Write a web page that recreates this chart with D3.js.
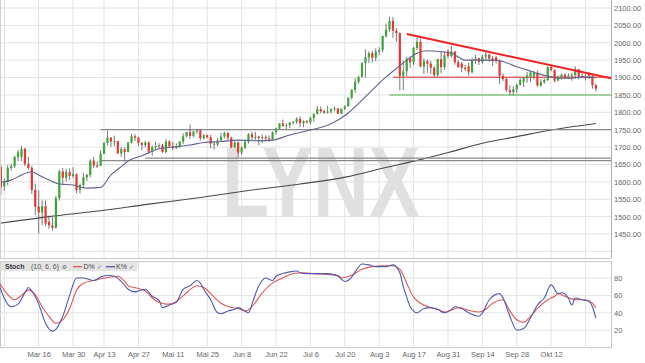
<!DOCTYPE html>
<html>
<head>
<meta charset="utf-8">
<script src="https://cdn.jsdelivr.net/npm/d3@7"></script>
<style>
    body { margin: 0; background: #fff; }
    svg { display: block; font-family: "Liberation Sans", Arial, sans-serif; }
</style>
</head>
<body>
<div id="chart"></div>
<script>
// trading days: Feb 27 .. Oct 29 2020, weekends and Good Friday left out
const holidays = ["2020-04-10"];

// daily candles [open, high, low, close], one row per trading day
const ohlc = [
    // Feb 27 - 28
    [1650,1660,1636,1643],[1643,1648,1563,1585],
    // Mar 2 - 6
    [1587,1610,1575,1600],[1600,1648,1590,1640],[1640,1652,1632,1645],[1645,1675,1640,1672],[1672,1692,1660,1685],
    // Mar 9 - 13
    [1672,1703,1660,1695],[1695,1698,1645,1652],[1652,1672,1635,1640],[1640,1646,1565,1577],[1577,1595,1504,1529],
    // Mar 16 - 20
    [1529,1575,1451,1512],[1512,1547,1475,1530],[1530,1547,1472,1480],[1485,1503,1465,1475],[1475,1500,1460,1468],
    // Mar 23 - 27
    [1468,1560,1465,1553],[1553,1635,1546,1630],[1630,1640,1590,1612],[1612,1638,1601,1628],[1628,1639,1605,1617],
    // Mar 30 - Apr 3
    [1617,1642,1611,1622],[1622,1625,1567,1577],[1577,1595,1566,1591],[1591,1626,1581,1613],[1613,1623,1603,1620],
    // Apr 6 - 9
    [1620,1665,1613,1661],[1661,1672,1640,1647],[1647,1659,1640,1644],[1646,1690,1645,1681],
    // Apr 13 - 17
    [1681,1714,1680,1712],[1712,1747,1705,1727],[1727,1729,1701,1716],[1716,1733,1703,1717],[1717,1718,1680,1682],
    // Apr 20 - 24
    [1682,1700,1672,1694],[1694,1699,1659,1686],[1686,1715,1685,1713],[1713,1739,1710,1731],[1731,1737,1717,1727],
    // Apr 27 - May 1
    [1727,1729,1703,1712],[1712,1714,1691,1706],[1706,1718,1700,1713],[1713,1717,1681,1687],[1687,1704,1675,1700],
    // May 4 - 8
    [1700,1715,1692,1703],[1703,1711,1696,1705],[1705,1709,1683,1686],[1686,1723,1682,1716],[1716,1720,1698,1702],
    // May 11 - 15
    [1702,1715,1691,1697],[1697,1711,1694,1701],[1701,1718,1698,1716],[1716,1740,1709,1731],[1731,1744,1728,1743],
    // May 18 - 22
    [1743,1765,1724,1732],[1732,1747,1728,1745],[1745,1752,1739,1748],[1748,1750,1718,1726],[1726,1737,1721,1734],
    // May 25 - 29
    [1734,1736,1725,1728],[1728,1735,1696,1710],[1710,1716,1693,1707],[1707,1726,1702,1719],[1719,1741,1715,1730],
    // Jun 1 - 5
    [1730,1744,1725,1740],[1740,1744,1720,1727],[1727,1730,1697,1699],[1699,1718,1698,1713],[1713,1717,1670,1684],
    // Jun 8 - 12
    [1684,1702,1677,1698],[1698,1722,1694,1715],[1715,1740,1710,1737],[1737,1744,1718,1728],[1728,1744,1720,1730],
    // Jun 15 - 19
    [1730,1732,1705,1726],[1726,1736,1711,1729],[1729,1734,1718,1725],[1725,1734,1715,1722],[1722,1745,1721,1743],
    // Jun 22 - 26
    [1743,1756,1736,1753],[1753,1768,1752,1768],[1768,1779,1758,1761],[1761,1769,1752,1763],[1763,1772,1755,1771],
    // Jun 29 - Jul 3
    [1771,1775,1765,1773],[1773,1786,1767,1781],[1781,1788,1757,1769],[1769,1777,1757,1775],[1775,1777,1768,1771],
    // Jul 6 - 10
    [1771,1787,1765,1784],[1784,1797,1773,1795],[1795,1818,1794,1809],[1809,1817,1797,1803],[1803,1808,1795,1799],
    // Jul 13 - 17
    [1799,1819,1796,1802],[1802,1812,1797,1809],[1809,1817,1803,1811],[1811,1812,1795,1796],[1796,1811,1795,1810],
    // Jul 20 - 24
    [1810,1820,1806,1817],[1817,1843,1817,1842],[1842,1866,1837,1865],[1865,1898,1856,1887],[1887,1905,1882,1902],
    // Jul 27 - 31
    [1902,1945,1900,1941],[1941,1981,1900,1958],[1958,1975,1942,1970],[1970,1977,1943,1957],[1957,1984,1947,1975],
    // Aug 3 - 7
    [1975,1987,1964,1979],[1979,2021,1972,2019],[2019,2055,2015,2038],[2038,2075,2032,2063],[2063,2074,2014,2035],
    // Aug 10 - 14
    [2035,2042,2003,2028],[2028,2030,1863,1905],[1905,1948,1864,1918],[1918,1960,1903,1954],[1954,1962,1928,1944],
    // Aug 17 - 21
    [1944,1988,1936,1985],[1985,2015,1979,2003],[2003,2012,1929,1932],[1932,1955,1910,1947],[1947,1952,1913,1940],
    // Aug 24 - 28
    [1940,1948,1910,1928],[1928,1933,1900,1907],[1907,1954,1902,1953],[1953,1977,1912,1930],[1930,1976,1922,1964],
    // Aug 31 - Sep 4
    [1975,1981,1955,1962],[1962,1992,1958,1975],[1975,1976,1937,1944],[1944,1951,1928,1930],[1940,1946,1915,1928],
    // Sep 7 - 11
    [1928,1936,1918,1925],[1932,1943,1906,1915],[1915,1956,1912,1950],[1950,1965,1940,1955],[1955,1958,1936,1945],
    // Sep 14 - 18
    [1945,1965,1940,1960],[1960,1973,1950,1966],[1966,1968,1945,1955],[1955,1962,1933,1947],[1958,1962,1940,1948],
    // Sep 21 - 25
    [1948,1952,1882,1905],[1905,1912,1890,1896],[1896,1900,1858,1864],[1864,1878,1849,1858],[1858,1875,1849,1866],
    // Sep 28 - Oct 2
    [1866,1882,1855,1879],[1879,1899,1877,1893],[1888,1902,1873,1898],[1898,1916,1885,1906],[1903,1918,1887,1915],
    // Oct 5 - 9
    [1903,1920,1895,1913],[1913,1920,1874,1877],[1877,1895,1873,1887],[1887,1898,1882,1893],[1893,1933,1890,1930],
    // Oct 12 - 16
    [1930,1933,1918,1922],[1922,1923,1886,1891],[1891,1906,1891,1901],[1901,1912,1894,1908],[1908,1912,1896,1899],
    // Oct 19 - 23
    [1899,1912,1897,1904],[1904,1914,1891,1907],[1907,1932,1897,1924],[1924,1925,1895,1904],[1904,1912,1898,1902],
    // Oct 26 - 29
    [1902,1909,1892,1900],[1910,1915,1895,1905],[1905,1910,1868,1878],[1878,1883,1860,1868]
];

// moving averages [date, price]
const sma20 = [["02-27",1598],["03-04",1605],["03-09",1620],["03-12",1629],["03-16",1620],["03-19",1605],
    ["03-24",1594],["03-30",1591],["04-03",1582],["04-09",1584],["04-15",1620],["04-20",1644],["04-22",1660],
    ["04-28",1675],["05-05",1695],["05-12",1701],["05-18",1706],["05-22",1713],["05-29",1716],["06-05",1720],
    ["06-15",1718],["06-19",1720],["06-26",1735],["07-06",1749],["07-14",1767],["07-16",1778],["07-21",1798],
    ["07-23",1816],["07-28",1845],["07-31",1874],["08-05",1902],["08-10",1926],["08-13",1950],["08-18",1970],
    ["08-21",1977],["08-27",1974],["09-01",1970],["09-07",1950],["09-11",1950],["09-17",1950],["09-22",1946],
    ["09-28",1931],["10-01",1922],["10-06",1912],["10-09",1904],["10-15",1898],["10-20",1898],["10-23",1902],
    ["10-29",1900]];
const sma200 = [["02-27",1480],["03-19",1500],["04-09",1517],["04-30",1536],["05-21",1555],["06-10",1575],
    ["07-01",1594],["07-21",1615],["08-04",1639],["08-19",1664],["09-01",1687],["09-14",1711],["09-28",1730],
    ["10-12",1749],["10-19",1757],["10-29",1768]];

// drawn lines: horizontal levels [from date, price] and the falling trend line
const grayLevels = [["04-09",1750],["04-09",1661],["04-29",1668]];
const redLevel = ["08-07",1901];
const greenLevel = ["08-06",1850];
const trendLine = [["08-13",2025],["10-29",1907]];

// stochastic (10, 6, 6) [date, value]
const stochK = [["02-27",78],["03-04",47],["03-06",50],["03-10",63],["03-11",69],["03-12",65],["03-16",50],
    ["03-18",28],["03-20",19],["03-23",21],["03-25",36],["03-27",60],["03-31",80],["04-02",80],["04-03",79],
    ["04-07",77],["04-09",81],["04-14",83],["04-16",82],["04-20",76],["04-22",67],["04-24",64],["04-27",65],
    ["04-29",67],["05-01",59],["05-05",54],["05-06",46],["05-08",49],["05-12",52],["05-14",67],["05-18",71],
    ["05-20",77],["05-21",74],["05-22",67],["05-26",55],["05-28",40],["05-29",39],["06-02",42],["06-04",44],
    ["06-05",46],["06-09",42],["06-10",40],["06-11",50],["06-15",71],["06-17",80],["06-19",77],["06-22",82],
    ["06-24",85],["06-26",87],["06-30",88],["07-01",86],["07-03",85],["07-08",85],["07-13",85],["07-16",82],
    ["07-20",76],["07-22",81],["07-23",87],["07-27",96],["07-29",95],["07-31",93],["08-05",93],["08-07",95],
    ["08-11",86],["08-12",70],["08-13",58],["08-14",47],["08-17",42],["08-18",40],["08-20",45],["08-24",46],
    ["08-26",44],["08-28",40],["09-01",44],["09-02",47],["09-04",45],["09-08",40],["09-11",36],["09-14",40],
    ["09-16",55],["09-21",62],["09-22",57],["09-24",36],["09-28",20],["09-30",22],["10-02",34],["10-06",49],
    ["10-08",57],["10-12",72],["10-14",62],["10-15",63],["10-19",57],["10-20",49],["10-21",57],["10-23",55],
    ["10-27",53],["10-28",47],["10-29",34]];
const stochD = [["02-27",78],["03-03",61],["03-05",55],["03-09",60],["03-11",66],["03-13",61],["03-17",47],
    ["03-19",36],["03-23",28],["03-25",32],["03-27",45],["03-31",66],["04-02",74],["04-07",77],["04-09",79],
    ["04-15",81],["04-17",82],["04-21",76],["04-22",71],["04-27",68],["04-29",65],["05-01",57],["05-05",52],
    ["05-07",50],["05-11",51],["05-13",56],["05-15",63],["05-20",71],["05-22",69],["05-27",58],["05-29",51],
    ["06-03",46],["06-05",45],["06-09",42],["06-11",47],["06-16",63],["06-19",74],["06-24",80],["06-29",85],
    ["07-02",86],["07-07",85],["07-13",84],["07-16",83],["07-17",80],["07-22",83],["07-27",90],["07-30",93],
    ["08-04",94],["08-07",94],["08-11",90],["08-13",74],["08-17",58],["08-19",51],["08-24",46],["08-26",44],
    ["08-28",41],["09-01",43],["09-03",46],["09-08",43],["09-11",41],["09-15",44],["09-17",51],["09-22",55],
    ["09-24",42],["09-28",32],["09-30",29],["10-02",36],["10-06",45],["10-09",55],["10-13",59],["10-14",62],
    ["10-16",59],["10-20",56],["10-22",55],["10-26",55],["10-28",51],["10-29",46]];

// axes
const priceTicks = [1450,1500,1550,1600,1650,1700,1750,1800,1850,1900,1950,2000,2050,2100];
const priceGrid = [1400,1450,1500,1550,1600,1650,1700,1750,1800,1850,1900,1950,2000,2050,2100];
const stochTicks = [20,40,60,80];
const dateTicks = ["03-02","03-16","03-30","04-13","04-27","05-11","05-25","06-08","06-22","07-06",
    "07-20","08-03","08-17","08-31","09-14","09-28","10-12","10-26"];
const dateLabels = ["","Mar 16","Mar 30","Apr 13","Apr 27","Mai 11","Mai 25","Jun 8","Jun 22","Jul 6",
    "Jul 20","Aug 3","Aug 17","Aug 31","Sep 14","Sep 28","Okt 12",""];


let width = 645, height = 363;
let right = 611;
let mainBottom = 258, stochTop = 261.7, stochBottom = 347.7;

let fmtKey = d3.timeFormat("%m-%d"), fmtIso = d3.timeFormat("%Y-%m-%d");
let days = d3.timeDay.range(new Date(2020, 1, 27), new Date(2020, 9, 30))
    .filter(d => d.getDay() % 6 !== 0 && !holidays.includes(fmtIso(d)));
let idx = new Map(days.map((d, i) => [fmtKey(d), i]));

let x = d3.scaleLinear().domain([0.75, 178.4]).range([0, right]);
let y = d3.scaleLinear().domain([1400, 2100]).range([251.4, 8]);
let ys = d3.scaleLinear().domain([0, 100]).range([stochBottom, 260.5]);
let xd = k => x(idx.get(k));

let svg = d3.select("#chart").append("svg")
    .attr("width", width)
    .attr("height", height);

svg.append("clipPath").attr("id", "clipMain")
    .append("rect").attr("x", 0).attr("y", 0).attr("width", right).attr("height", mainBottom);
svg.append("clipPath").attr("id", "clipStoch")
    .append("rect").attr("x", 0).attr("y", stochTop).attr("width", right).attr("height", stochBottom - stochTop);

let gridColor = "#e2e2e2";

//главная панель: сетка
let main = svg.append("g").attr("clip-path", "url(#clipMain)");
priceGrid.forEach(p => {
    main.append("line")
        .attr("x1", 0).attr("x2", right)
        .attr("y1", y(p)).attr("y2", y(p))
        .attr("stroke", gridColor).attr("stroke-width", 1);
});
dateTicks.forEach(k => {
    main.append("line")
        .attr("x1", xd(k)).attr("x2", xd(k))
        .attr("y1", 0).attr("y2", mainBottom)
        .attr("stroke", gridColor).attr("stroke-width", 1);
});

// watermark
main.append("text")
    .attr("x", 222).attr("y", 217)
    .attr("font-size", 100).attr("font-weight", "bold")
    .attr("textLength", 198).attr("lengthAdjust", "spacingAndGlyphs")
    .attr("fill", "#e0e0e0")
    .text("LYNX");

// long moving average
let priceLine = d3.line()
    .x(d => xd(d[0]))
    .y(d => y(d[1]))
    .curve(d3.curveMonotoneX);

main.append("path").attr("d", priceLine(sma200))
    .attr("fill", "none").attr("stroke", "#4a4a4a").attr("stroke-width", 1.1);

// support / resistance levels
grayLevels.forEach(l => {
    main.append("line")
        .attr("x1", xd(l[0])).attr("x2", right)
        .attr("y1", y(l[1])).attr("y2", y(l[1]))
        .attr("stroke", "#8a8a8a").attr("stroke-width", 1.2);
});
main.append("line")
    .attr("x1", xd(greenLevel[0])).attr("x2", right)
    .attr("y1", y(greenLevel[1])).attr("y2", y(greenLevel[1]))
    .attr("stroke", "#4daf4a").attr("stroke-width", 1.1);
main.append("line")
    .attr("x1", xd(redLevel[0])).attr("x2", right)
    .attr("y1", y(redLevel[1])).attr("y2", y(redLevel[1]))
    .attr("stroke", "#ee2a2a").attr("stroke-width", 1);

// candles
days.forEach((d, i) => {
    let c = ohlc[i];
    if (!c) return;
    let cx = x(i);
    let up = c[3] >= c[0];
    main.append("line")
        .attr("x1", cx).attr("x2", cx)
        .attr("y1", y(c[1])).attr("y2", y(c[2]))
        .attr("stroke", "#555").attr("stroke-width", 0.8);
    let top = y(Math.max(c[0], c[3]));
    let h = Math.max(1, Math.abs(y(c[0]) - y(c[3])));
    main.append("rect")
        .attr("x", cx - 1.1).attr("y", top)
        .attr("width", 2.2).attr("height", h)
        .attr("fill", up ? "#3ca53c" : "#e5382f");
});

// short moving average
main.append("path").attr("d", priceLine(sma20))
    .attr("fill", "none").attr("stroke", "#62628f").attr("stroke-width", 1.1);

// falling trend line, carried on to the price axis
let i1 = idx.get(trendLine[0][0]), i2 = idx.get(trendLine[1][0]);
let slope = (trendLine[1][1] - trendLine[0][1]) / (i2 - i1);
let iEnd = x.domain()[1];
main.append("line")
    .attr("x1", x(i1)).attr("y1", y(trendLine[0][1]))
    .attr("x2", x(iEnd)).attr("y2", y(trendLine[0][1] + slope * (iEnd - i1)))
    .attr("stroke", "#ee2222").attr("stroke-width", 2);

// panel frame
svg.append("line").attr("x1", right + 0.5).attr("x2", right + 0.5).attr("y1", 0).attr("y2", mainBottom)
    .attr("stroke", "#b0b0b0");
svg.append("line").attr("x1", 0).attr("x2", right).attr("y1", mainBottom + 0.5).attr("y2", mainBottom + 0.5)
    .attr("stroke", "#c8c8c8");
svg.append("line").attr("x1", 0.5).attr("x2", 0.5).attr("y1", 0).attr("y2", mainBottom)
    .attr("stroke", "#d0d0d0");

// price axis
let yAxis = svg.append("g")
    .attr("transform", "translate(" + right + ",0)")
    .call(d3.axisRight(y).tickValues(priceTicks).tickFormat(d3.format(".2f")).tickSize(0).tickPadding(3));
yAxis.select(".domain").remove();
yAxis.selectAll("text").attr("font-size", 7.5).attr("font-family", "Liberation Sans, Arial, sans-serif").attr("fill", "#666");

//стохастик
let st = svg.append("g");
st.append("rect")
    .attr("x", 0.5).attr("y", stochTop).attr("width", right).attr("height", stochBottom - stochTop)
    .attr("fill", "none").attr("stroke", "#c8c8c8");
stochTicks.forEach(v => {
    st.append("line")
        .attr("x1", 0).attr("x2", right)
        .attr("y1", ys(v)).attr("y2", ys(v))
        .attr("stroke", gridColor);
});
dateTicks.forEach(k => {
    st.append("line")
        .attr("x1", xd(k)).attr("x2", xd(k))
        .attr("y1", stochTop).attr("y2", stochBottom)
        .attr("stroke", gridColor);
});

let stLine = d3.line()
    .x(d => xd(d[0]))
    .y(d => ys(d[1]))
    .curve(d3.curveMonotoneX);
let stLines = svg.append("g").attr("clip-path", "url(#clipStoch)");
stLines.append("path").attr("d", stLine(stochD))
    .attr("fill", "none").attr("stroke", "#e05555").attr("stroke-width", 1.1);
stLines.append("path").attr("d", stLine(stochK))
    .attr("fill", "none").attr("stroke", "#4f5aa8").attr("stroke-width", 1.1);

// legend header
let hd = svg.append("g").attr("font-size", 7).attr("fill", "#333");
hd.append("rect").attr("x", 0.5).attr("y", stochTop + 0.5).attr("width", 137).attr("height", 9)
    .attr("fill", "#e4e4e4");
hd.append("text").attr("x", 5).attr("y", stochTop + 7.5).attr("font-weight", "bold").text("Stoch");
hd.append("text").attr("x", 31).attr("y", stochTop + 7.5).attr("fill", "#555").text("(10, 6, 6)");
hd.append("text").attr("x", 62).attr("y", stochTop + 7.5).attr("font-size", 5.5).attr("fill", "#555")
    .attr("font-family", "DejaVu Sans").text("⚙");
hd.append("line").attr("x1", 73).attr("x2", 82).attr("y1", stochTop + 5).attr("y2", stochTop + 5)
    .attr("stroke", "#e05555").attr("stroke-width", 1.3);
hd.append("text").attr("x", 83.5).attr("y", stochTop + 7.5).attr("fill", "#444").text("D%");
hd.append("text").attr("x", 97).attr("y", stochTop + 7.5).attr("font-size", 6).attr("fill", "#777")
    .attr("font-family", "DejaVu Sans").text("✓");
hd.append("line").attr("x1", 106).attr("x2", 115).attr("y1", stochTop + 5).attr("y2", stochTop + 5)
    .attr("stroke", "#4f5aa8").attr("stroke-width", 1.3);
hd.append("text").attr("x", 116).attr("y", stochTop + 7.5).attr("fill", "#444").text("K%");
hd.append("text").attr("x", 129).attr("y", stochTop + 7.5).attr("font-size", 6).attr("fill", "#777")
    .attr("font-family", "DejaVu Sans").text("✓");

let sAxis = svg.append("g")
    .attr("transform", "translate(" + right + ",0)")
    .call(d3.axisRight(ys).tickValues(stochTicks).tickSize(0).tickPadding(3));
sAxis.select(".domain").remove();
sAxis.selectAll("text").attr("font-size", 7.5).attr("font-family", "Liberation Sans, Arial, sans-serif").attr("fill", "#666");

// date axis
let xAxis = svg.append("g")
    .attr("transform", "translate(0," + stochBottom + ")")
    .call(d3.axisBottom(x)
        .tickValues(dateTicks.map(k => idx.get(k)))
        .tickFormat((d, i) => dateLabels[i])
        .tickSize(0).tickPadding(3.5));
xAxis.select(".domain").remove();
xAxis.selectAll("text").attr("font-size", 7.5).attr("font-family", "Liberation Sans, Arial, sans-serif").attr("fill", "#666");
</script>
</body>
</html>
